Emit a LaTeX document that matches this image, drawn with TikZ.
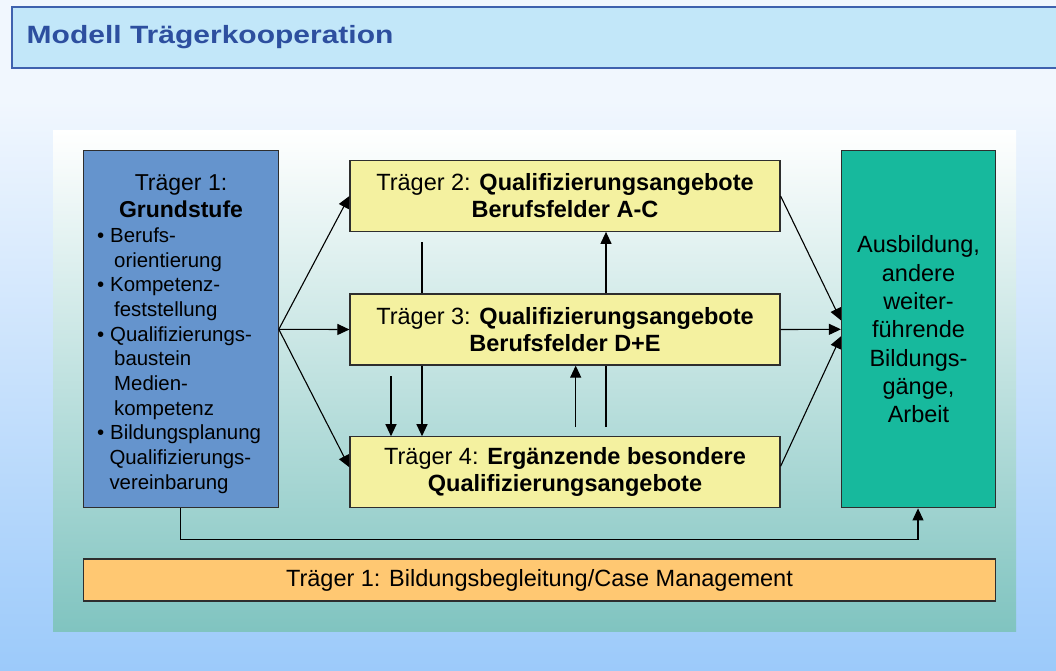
\documentclass[tikz,border=0pt]{standalone}
\usepackage{fontspec}
\setmainfont{Liberation Sans}
\usepackage{graphicx}
\usetikzlibrary{arrows.meta,calc}
\definecolor{bgtop}{HTML}{F1F7FE}
\definecolor{bgbot}{HTML}{9CCAFA}
\definecolor{titlefill}{HTML}{C2E7F9}
\definecolor{titleline}{HTML}{3F62AE}
\definecolor{titletext}{HTML}{2D4F9F}
\definecolor{panelbot}{HTML}{80C4C0}
\definecolor{boxblue}{HTML}{6594CD}
\definecolor{boxyellow}{HTML}{F4F1A0}
\definecolor{boxgreen}{HTML}{17B99D}
\definecolor{boxorange}{HTML}{FFC872}
\definecolor{boxline}{HTML}{2E2E2E}
\tikzset{
  box/.style={draw=boxline, line width=1.2pt, inner sep=0pt, align=center,
    font=\fontsize{23.5}{27}\selectfont},
  arr/.style={line width=1.1pt, -{Triangle[length=12pt,width=11pt]}},
  plain/.style={line width=1.1pt},
  ltext/.style={anchor=base west, inner sep=0pt, font=\fontsize{20.4}{24}\selectfont},
}
\begin{document}
\begin{tikzpicture}[x=1pt,y=-1pt]
\useasboundingbox (0,0) rectangle (1056,670);
% background
\fill[bgtop] (0,0) rectangle (1056,101);
\shade[top color=bgtop, bottom color=bgbot] (0,100) rectangle (1056,670);
% title bar
\filldraw[fill=titlefill, draw=titleline, line width=1.2pt] (12,7) rectangle (1062,68);
\node[anchor=base west, inner sep=0pt, text=titletext,
  font=\fontsize{25}{30}\selectfont\bfseries] (title) at (26.5,43)
  {\scalebox{1.2}[1]{Modell Trägerkooperation}};
% panel
\shade[top color=white, bottom color=panelbot] (53,130) rectangle (1016,631);
% boxes
\node[box, fill=boxblue, minimum width=195pt, minimum height=357pt] (t1) at (180.7,329.3) {};
\node[box, fill=boxyellow, minimum width=430pt, minimum height=70.5pt] (t2) at (565,196)
  {Träger 2: \textbf{Qualifizierungsangebote}\\\textbf{Berufsfelder A-C}};
\node[box, fill=boxyellow, minimum width=430pt, minimum height=71pt] (t3) at (565,329.5)
  {Träger 3: \textbf{Qualifizierungsangebote}\\\textbf{Berufsfelder D+E}};
\node[box, fill=boxyellow, minimum width=430pt, minimum height=71pt] (t4) at (565,472.3)
  {Träger 4: \textbf{Ergänzende besondere}\\\textbf{Qualifizierungsangebote}};
\node[box, fill=boxgreen, minimum width=154pt, minimum height=357pt,
  font=\fontsize{23.5}{28.3}\selectfont] (g) at (918.5,329.3)
  {Ausbildung,\\andere\\weiter-\\führende\\Bildungs-\\gänge,\\Arbeit};
\node[box, fill=boxorange, minimum width=912pt, minimum height=42pt] (cm) at (539.5,580)
  {Träger 1: Bildungsbegleitung/Case Management};
% text of Träger 1
\node[anchor=base, inner sep=0pt, font=\fontsize{23}{27}\selectfont] (h1) at (181,190) {Träger 1:};
\node[anchor=base, inner sep=0pt, font=\fontsize{23}{27}\selectfont\bfseries] (h2) at (181,217.3) {Grundstufe};
\foreach \y in {242.3,291.7,341.1,439.9}{
  \node[ltext] at (97,\y) {•};
}
\node[ltext] (l1) at (110,242.3) {Berufs-};
\node[ltext] (l2) at (114,267.0) {orientierung};
\node[ltext] (l3) at (110,291.7) {Kompetenz-};
\node[ltext] (l4) at (114,316.4) {feststellung};
\node[ltext] (l5) at (110,341.1) {Qualifizierungs-};
\node[ltext] (l6) at (114,365.8) {baustein};
\node[ltext] (l7) at (114,390.5) {Medien-};
\node[ltext] (l8) at (114,415.2) {kompetenz};
\node[ltext] (l9) at (110,439.9) {Bildungsplanung};
\node[ltext] (l10) at (109.3,464.6) {Qualifizierungs-};
\node[ltext] (l11) at (109.3,489.3) {vereinbarung};
% connectors from Träger 1
\draw[arr] (t1.east) -- (t2.west);
\draw[arr] (t1.east) -- (t3.west);
\draw[arr] (t1.east) -- ($(t4.west)+(0,-5)$);
% connectors to green box
\draw[arr] (t2.east) -- ($(g.west)+(0,-9)$);
\draw[arr] (t3.east) -- (g.west);
\draw[arr] ($(t4.east)+(0,-6)$) -- ($(g.west)+(0,7)$);
% vertical connectors
\coordinate (a0) at (422,242);
\draw[plain] (a0) -- (a0 |- t3.north);
\draw[arr] (a0 |- t3.south) -- (a0 |- t4.north);
\coordinate (b0) at (391,376);
\draw[arr] (b0) -- (b0 |- t4.north);
\coordinate (c0) at (575.7,427);
\draw[arr] (c0) -- (c0 |- t3.south);
\coordinate (d0) at (606,427);
\draw[plain] (d0) -- (d0 |- t3.south);
\draw[arr] (d0 |- t3.north) -- (d0 |- t2.south);
% bottom connector
\coordinate (bc) at (918,539.5);
\draw[arr] (t1.south) |- (bc) -- (g.south -| bc);
\end{tikzpicture}
\end{document}
